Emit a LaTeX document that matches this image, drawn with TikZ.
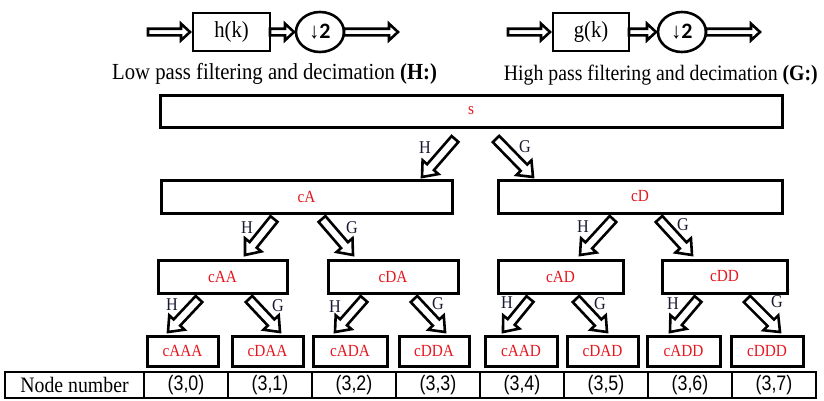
\documentclass[tikz,border=0pt]{standalone}
\usepackage{fontspec}
\setmainfont{Liberation Serif}[FakeStretch=0.9]
\newfontfamily\tabsans{Liberation Sans}[FakeStretch=0.85]
\newfontfamily\boldsans{Carlito}
\usetikzlibrary{calc,shapes.geometric}
\definecolor{nodered}{RGB}{228,22,30}
\definecolor{lbl}{RGB}{25,25,50}
% hollow fat arrow: #1 start, #2 tip, #3 half shaft width, #4 half head width, #5 head length
\newcommand\harrow[5]{%
  \draw[fatline] ($(#1)!#3!90:(#2)$) -- ($(#2)!#5!(#1)!#3!-90:(#1)$)
    -- ($(#2)!#5!(#1)!#4!-90:(#1)$) -- (#2)
    -- ($(#2)!#5!(#1)!#4!90:(#1)$) -- ($(#2)!#5!(#1)!#3!90:(#1)$)
    -- ($(#1)!#3!-90:(#2)$) -- cycle;}
\newcommand\treearrow[2]{\harrow{#1}{#2}{4.5pt}{10.5pt}{13pt}}
\newcommand\toparrow[2]{\harrow{#1}{#2}{3.3pt}{8.3pt}{9pt}}
\begin{document}
\begin{tikzpicture}[x=1pt,y=-1pt,
  fatline/.style={draw=black,fill=white,line width=2.6pt,line join=miter},
  tbox/.style={draw,line width=3pt,inner sep=0pt,outer sep=0pt,text=nodered,
    font=\fontsize{17}{17}\selectfont},
  fbox/.style={draw,line width=2.6pt,inner sep=0pt,outer sep=0pt,
    font=\fontsize{23}{23}\selectfont},
  dec/.style={draw,ellipse,line width=2.6pt,inner sep=0pt,outer sep=0pt,
    minimum width=48pt,minimum height=40pt,font=\fontsize{22}{22}\selectfont},
  captext/.style={inner sep=0pt},
  lab/.style={text=lbl,font=\fontsize{18}{18}\selectfont,inner sep=0pt},
  cell/.style={draw,line width=1.3pt,inner sep=0pt,outer sep=0pt,minimum height=26pt,
    minimum width=84pt,font=\tabsans\fontsize{21}{21}\selectfont},
  l1/.style={tbox,minimum height=33pt},
  l2/.style={tbox,minimum height=33pt},
  l3/.style={tbox,minimum height=30pt}]
\useasboundingbox (0,0) rectangle (824,400);

% ---------- top: filter diagrams ----------
\node[fbox,minimum width=77pt,minimum height=38pt] (hk) at (231.5,32) {h(k)};
\node[dec] (d1) at (320,32) {\symbol{"2193}\boldsans\textbf{2}};
\coordinate (inL) at (148,32);
\coordinate (hkin) at (190,32);
\coordinate (d1in) at (294,32);
\coordinate (outL) at (398,32);
\toparrow{inL}{hkin}
\toparrow{hk.east}{d1in}
\toparrow{d1.east}{outL}
\node[captext,anchor=west,font=\fontsize{23}{23}\selectfont] (capL) at (112,74)
  {Low pass filtering and decimation \textbf{(H:)}};

\node[fbox,minimum width=76pt,minimum height=38pt] (gk) at (591,32) {g(k)};
\node[dec] (d2) at (682,32) {\symbol{"2193}\boldsans\textbf{2}};
\coordinate (inR) at (508,32);
\coordinate (gkin) at (550,32);
\coordinate (d2in) at (656,32);
\coordinate (outR) at (760,32);
\toparrow{inR}{gkin}
\toparrow{gk.east}{d2in}
\toparrow{d2.east}{outR}
\node[captext,anchor=east,font=\fontsize{22}{22}\selectfont] (capR) at (818,75)
  {High pass filtering and decimation \textbf{(G:)}};

% ---------- tree ----------
\node[tbox,minimum width=622pt,minimum height=32pt] (s) at (471,111) {s};
\node[l1,minimum width=291pt] (cA) at (306.5,196.5) {cA};
\node[l1,minimum width=284pt] (cD) at (640,196.5) {cD};
\node[l2,minimum width=129pt] (cAA) at (222.5,276.5) {cAA};
\node[l2,minimum width=130pt] (cDA) at (393,276.5) {cDA};
\node[l2,minimum width=125pt] (cAD) at (560.5,276.5) {cAD};
\node[l2,minimum width=125pt] (cDD) at (724.5,276.5) {cDD};
\node[l3,minimum width=71pt] (cAAA) at (182.5,351) {cAAA};
\node[l3,minimum width=71pt] (cDAA) at (267.5,351) {cDAA};
\node[l3,minimum width=74pt] (cADA) at (350,351) {cADA};
\node[l3,minimum width=70pt] (cDDA) at (434,351) {cDDA};
\node[l3,minimum width=72pt] (cAAD) at (521,351) {cAAD};
\node[l3,minimum width=71pt] (cDAD) at (602.5,351) {cDAD};
\node[l3,minimum width=73pt] (cADD) at (683.5,351) {cADD};
\node[l3,minimum width=72pt] (cDDD) at (767,351) {cDDD};

% arrow end points
\coordinate (sH) at (455,139);  \coordinate (cAt) at (422,177);
\coordinate (sG) at (496,139);  \coordinate (cDt) at (533,177);
\coordinate (cAH) at (274,219); \coordinate (cAAt) at (245,255);
\coordinate (cAG) at (322,219); \coordinate (cDAt) at (353,255);
\coordinate (cDH) at (613,219); \coordinate (cADt) at (580,255);
\coordinate (cDG) at (659,219); \coordinate (cDDt) at (692,255);
\coordinate (cAAH) at (199,299); \coordinate (cAAAt) at (168,332);
\coordinate (cAAG) at (249,299); \coordinate (cDAAt) at (280,332);
\coordinate (cDAH) at (364,299); \coordinate (cADAt) at (335,332);
\coordinate (cDAG) at (414,299); \coordinate (cDDAt) at (445,332);
\coordinate (cADH) at (530,299); \coordinate (cAADt) at (503,332);
\coordinate (cADG) at (576,299); \coordinate (cDADt) at (607,332);
\coordinate (cDDH) at (698,299); \coordinate (cADDt) at (670,332);
\coordinate (cDDG) at (747,299); \coordinate (cDDDt) at (780,332);

\treearrow{sH}{cAt}     \treearrow{sG}{cDt}
\treearrow{cAH}{cAAt}   \treearrow{cAG}{cDAt}
\treearrow{cDH}{cADt}   \treearrow{cDG}{cDDt}
\treearrow{cAAH}{cAAAt} \treearrow{cAAG}{cDAAt}
\treearrow{cDAH}{cADAt} \treearrow{cDAG}{cDDAt}
\treearrow{cADH}{cAADt} \treearrow{cADG}{cDADt}
\treearrow{cDDH}{cADDt} \treearrow{cDDG}{cDDDt}

% branch labels
\node[lab] (h0) at (425,148) {H}; \node[lab] (g0) at (525,147) {G};
\node[lab] (h1) at (247,228) {H}; \node[lab] (g1) at (352,228) {G};
\node[lab] (h2) at (583,227) {H}; \node[lab] (g2) at (683,225) {G};
\node[lab] (h3) at (172,305) {H}; \node[lab] (g3) at (278,306) {G};
\node[lab] (h4) at (335,307) {H}; \node[lab] (g4) at (438,304) {G};
\node[lab] (h5) at (507,303) {H}; \node[lab] (g5) at (600,304) {G};
\node[lab] (h6) at (673,304) {H}; \node[lab] (g6) at (777,302) {G};

% ---------- table ----------
\node[cell,minimum width=139pt,font=\fontsize{22}{22}\selectfont] (t) at (74.5,385) {Node number};
\foreach \i in {0,...,7}{
  \node[cell] (t\i) at (186+84*\i,385) {(3,\i)};
}
\end{tikzpicture}
\end{document}
